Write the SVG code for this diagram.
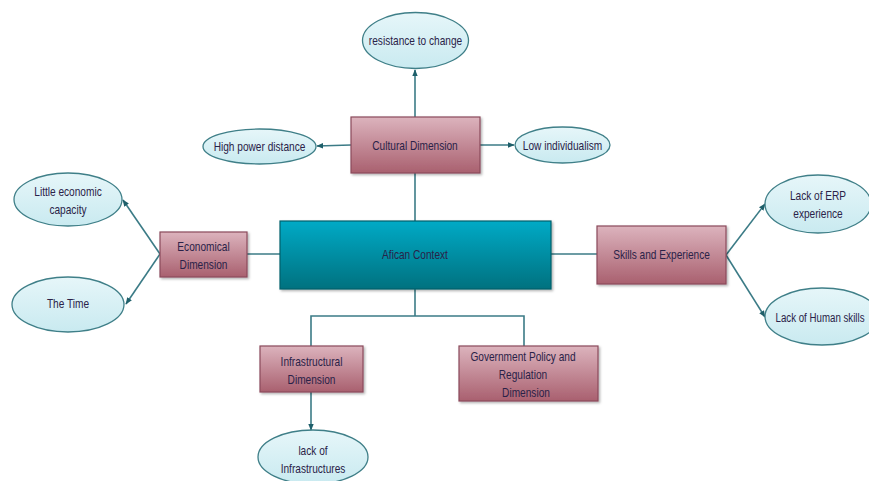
<svg xmlns="http://www.w3.org/2000/svg" width="869" height="481" viewBox="0 0 869 481">
  <defs>
    <linearGradient id="boxFill" x1="0" y1="0" x2="0" y2="1">
      <stop offset="0" stop-color="#dcb3bd"/>
      <stop offset="1" stop-color="#a9606f"/>
    </linearGradient>
    <linearGradient id="coreFill" x1="0" y1="0" x2="0" y2="1">
      <stop offset="0" stop-color="#00aac6"/>
      <stop offset="1" stop-color="#00717f"/>
    </linearGradient>
    <linearGradient id="ovalFill" x1="0" y1="0" x2="0" y2="1">
      <stop offset="0" stop-color="#e6f6f9"/>
      <stop offset="1" stop-color="#c9eaf0"/>
    </linearGradient>
    <marker id="arrow" viewBox="0 0 10 10" refX="9" refY="5" markerWidth="7" markerHeight="7" orient="auto" markerUnits="userSpaceOnUse">
      <path d="M0,1 L10,5 L0,9 Z" fill="#1e5f6a"/>
    </marker>
    <filter id="shadow" x="-10%" y="-10%" width="125%" height="130%">
      <feDropShadow dx="1.5" dy="1.5" stdDeviation="1" flood-color="#000" flood-opacity="0.3"/>
    </filter>
  </defs>
  <style>
    .box { fill: url(#boxFill); stroke: #8a4a5a; stroke-width: 1.2; filter: url(#shadow); }
    .core { fill: url(#coreFill); stroke: #00606c; stroke-width: 1.2; filter: url(#shadow); }
    .oval { fill: url(#ovalFill); stroke: #3f7f88; stroke-width: 1.3; }
    .link { fill: none; stroke: #3b7b86; stroke-width: 1.6; }
    .arr { marker-end: url(#arrow); }
    text { font-family: "Liberation Sans", Arial, sans-serif; font-size: 13.5px; fill: #2a2248; text-anchor: middle; dominant-baseline: central; }
  </style>
  <rect width="869" height="481" fill="#ffffff"/>

  <g id="connectors">
    <line class="link" x1="415" y1="173" x2="415" y2="221"/>
    <line class="link" x1="247" y1="254" x2="280" y2="254"/>
    <line class="link" x1="551" y1="254" x2="597" y2="254"/>
    <polyline class="link" points="415,289 415,316"/>
    <polyline class="link" points="311,346 311,316 524,316 524,346"/>
    <line class="link arr" x1="415" y1="117" x2="415" y2="70"/>
    <line class="link arr" x1="351" y1="145" x2="317" y2="146"/>
    <line class="link arr" x1="480" y1="145" x2="514" y2="145"/>
    <line class="link arr" x1="160" y1="254" x2="123" y2="200"/>
    <line class="link arr" x1="160" y1="254" x2="126" y2="304"/>
    <line class="link arr" x1="726" y1="255" x2="765" y2="204"/>
    <line class="link arr" x1="726" y1="255" x2="765" y2="317"/>
    <line class="link arr" x1="311" y1="392" x2="311" y2="430"/>
  </g>

  <!-- labels are squeezed horizontally to a narrow face -->
  <g id="african-context">
    <rect class="core" x="280" y="221" width="271" height="68"/>
    <text transform="translate(415,254) scale(0.75,1)">Afican Context</text>
  </g>

  <g id="cultural-dimension">
    <rect class="box" x="351" y="117" width="129" height="56"/>
    <text transform="translate(415,145) scale(0.75,1)">Cultural Dimension</text>
  </g>

  <g id="resistance-to-change">
    <ellipse class="oval" cx="415.5" cy="40.5" rx="53" ry="28"/>
    <text transform="translate(415.5,40.5) scale(0.75,1)">resistance to change</text>
  </g>

  <g id="high-power-distance">
    <ellipse class="oval" cx="259.5" cy="146.5" rx="56.5" ry="17.5"/>
    <text transform="translate(259.5,146) scale(0.75,1)">High power distance</text>
  </g>

  <g id="low-individualism">
    <ellipse class="oval" cx="562.5" cy="145" rx="47.5" ry="18"/>
    <text transform="translate(562.5,145) scale(0.75,1)">Low individualism</text>
  </g>

  <g id="economical-dimension">
    <rect class="box" x="160" y="232" width="87" height="45"/>
    <text transform="translate(203.5,246) scale(0.75,1)">Economical</text>
    <text transform="translate(203.5,264) scale(0.75,1)">Dimension</text>
  </g>

  <g id="little-economic-capacity">
    <ellipse class="oval" cx="68" cy="199.5" rx="54" ry="26.5"/>
    <text transform="translate(68,191) scale(0.75,1)">Little economic</text>
    <text transform="translate(68,209) scale(0.75,1)">capacity</text>
  </g>

  <g id="the-time">
    <ellipse class="oval" cx="68" cy="304.5" rx="56" ry="27.5"/>
    <text transform="translate(68,303) scale(0.75,1)">The Time</text>
  </g>

  <g id="skills-and-experience">
    <rect class="box" x="597" y="226" width="129" height="58"/>
    <text transform="translate(661.5,254) scale(0.75,1)">Skills and Experience</text>
  </g>

  <g id="lack-of-erp-experience">
    <ellipse class="oval" cx="818" cy="204" rx="53" ry="29"/>
    <text transform="translate(818,195) scale(0.75,1)">Lack of ERP</text>
    <text transform="translate(818,213) scale(0.75,1)">experience</text>
  </g>

  <g id="lack-of-human-skills">
    <ellipse class="oval" cx="822" cy="316.5" rx="57" ry="28.5"/>
    <text transform="translate(820,317) scale(0.72,1)">Lack of Human skills</text>
  </g>

  <g id="infrastructural-dimension">
    <rect class="box" x="260" y="346" width="103" height="46"/>
    <text transform="translate(311.5,361) scale(0.75,1)">Infrastructural</text>
    <text transform="translate(311.5,379) scale(0.75,1)">Dimension</text>
  </g>

  <g id="government-policy">
    <rect class="box" x="459" y="346" width="139" height="55"/>
    <text transform="translate(523,356) scale(0.75,1)">Government Policy and</text>
    <text transform="translate(523,374) scale(0.75,1)">Regulation</text>
    <text transform="translate(526,392) scale(0.75,1)">Dimension</text>
  </g>

  <g id="lack-of-infrastructures">
    <ellipse class="oval" cx="313" cy="457" rx="55" ry="27"/>
    <text transform="translate(313,450) scale(0.75,1)">lack of</text>
    <text transform="translate(313,468) scale(0.75,1)">Infrastructures</text>
  </g>
</svg>
